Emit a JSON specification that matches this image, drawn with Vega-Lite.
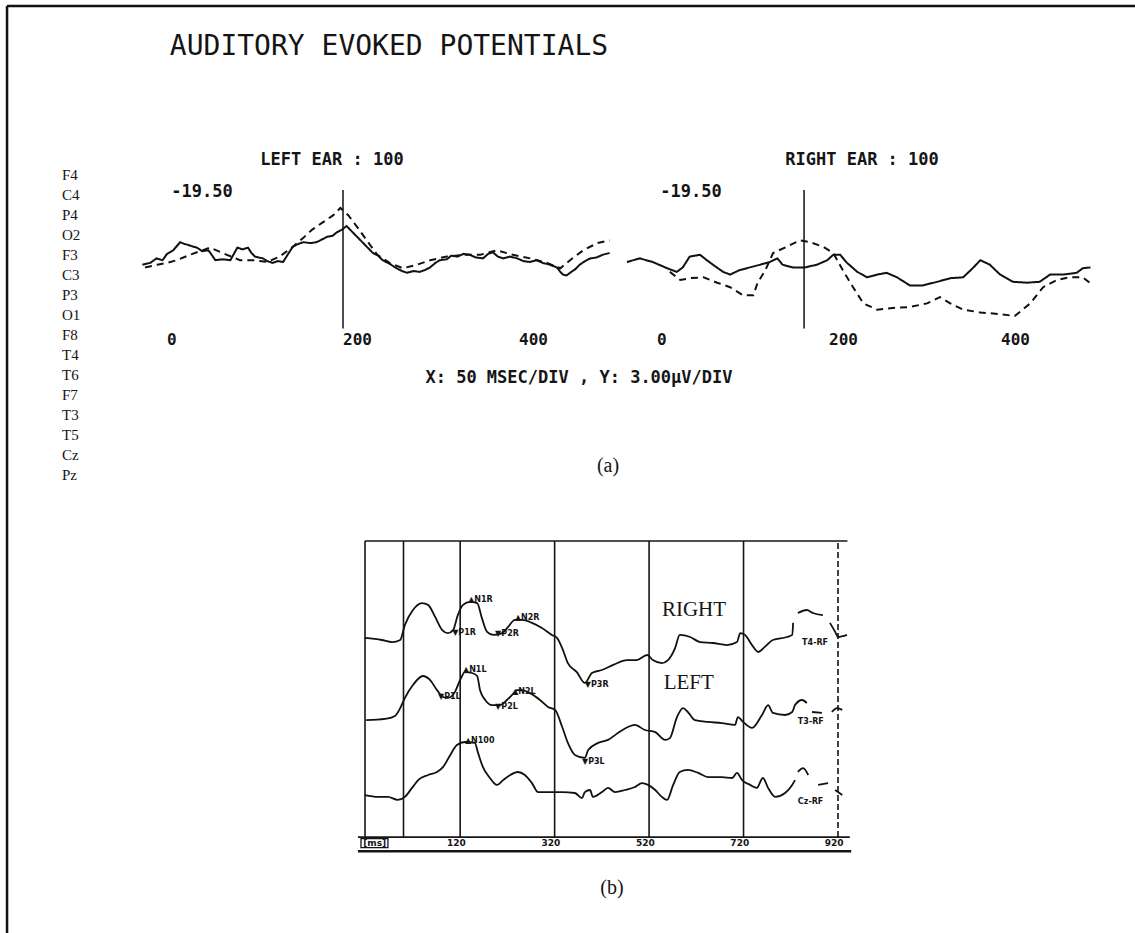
{
  "$schema": "https://vega.github.io/schema/vega-lite/v6.json",
  "width": 1135,
  "height": 933,
  "padding": 0,
  "autosize": {"type": "none"},
  "background": "white",
  "config": {"view": {"stroke": null}, "axis": {"disable": true}, "legend": {"disable": true}},
  "datasets": {
    "frameLines": [
      {"x": 0.62, "y": 0.64, "x2": 100, "y2": 0.64},
      {"x": 0.62, "y": 0.64, "x2": 0.62, "y2": 100}
    ],
    "pageText": [
      {"role": "title", "x": 34.27, "y": 5.04, "text": "AUDITORY EVOKED POTENTIALS"},
      {"role": "head", "x": 29.25, "y": 17.15, "text": "LEFT EAR : 100"},
      {"role": "head", "x": 75.95, "y": 17.15, "text": "RIGHT EAR : 100"},
      {"role": "head", "x": 17.8, "y": 20.58, "text": "-19.50"},
      {"role": "head", "x": 60.88, "y": 20.58, "text": "-19.50"},
      {"role": "head", "x": 51.01, "y": 40.51, "text": "X: 50 MSEC/DIV , Y: 3.00µV/DIV"},
      {"role": "cap", "x": 53.57, "y": 49.95, "text": "(a)"},
      {"role": "cap", "x": 53.92, "y": 95.18, "text": "(b)"},
      {"role": "chan", "x": 5.46, "y": 18.76, "text": "F4"},
      {"role": "chan", "x": 5.46, "y": 20.9, "text": "C4"},
      {"role": "chan", "x": 5.46, "y": 23.04, "text": "P4"},
      {"role": "chan", "x": 5.46, "y": 25.19, "text": "O2"},
      {"role": "chan", "x": 5.46, "y": 27.33, "text": "F3"},
      {"role": "chan", "x": 5.46, "y": 29.47, "text": "C3"},
      {"role": "chan", "x": 5.46, "y": 31.62, "text": "P3"},
      {"role": "chan", "x": 5.46, "y": 33.76, "text": "O1"},
      {"role": "chan", "x": 5.46, "y": 35.91, "text": "F8"},
      {"role": "chan", "x": 5.46, "y": 38.05, "text": "T4"},
      {"role": "chan", "x": 5.46, "y": 40.19, "text": "T6"},
      {"role": "chan", "x": 5.46, "y": 42.34, "text": "F7"},
      {"role": "chan", "x": 5.46, "y": 44.48, "text": "T3"},
      {"role": "chan", "x": 5.46, "y": 46.62, "text": "T5"},
      {"role": "chan", "x": 5.46, "y": 48.77, "text": "Cz"},
      {"role": "chan", "x": 5.46, "y": 50.91, "text": "Pz"}
    ],
    "leftEar": [
      {"curve": "A", "ms": -28, "uv": -0.3}, {"curve": "A", "ms": -19, "uv": -0.1}, {"curve": "A", "ms": -12, "uv": 0.4},
      {"curve": "A", "ms": -5, "uv": 0.2}, {"curve": "A", "ms": 0, "uv": 0.9}, {"curve": "A", "ms": 7, "uv": 1.3},
      {"curve": "A", "ms": 15, "uv": 2.2}, {"curve": "A", "ms": 20, "uv": 2.0}, {"curve": "A", "ms": 24, "uv": 1.9},
      {"curve": "A", "ms": 30, "uv": 1.7}, {"curve": "A", "ms": 34, "uv": 1.6}, {"curve": "A", "ms": 40, "uv": 1.2},
      {"curve": "A", "ms": 47, "uv": 1.3}, {"curve": "A", "ms": 50, "uv": 0.9}, {"curve": "A", "ms": 55, "uv": 0.2},
      {"curve": "A", "ms": 63, "uv": 0.3}, {"curve": "A", "ms": 72, "uv": 0.2}, {"curve": "A", "ms": 76, "uv": 0.9},
      {"curve": "A", "ms": 80, "uv": 1.6}, {"curve": "A", "ms": 86, "uv": 1.4}, {"curve": "A", "ms": 92, "uv": 1.6},
      {"curve": "A", "ms": 96, "uv": 1.0}, {"curve": "A", "ms": 100, "uv": 0.6}, {"curve": "A", "ms": 109, "uv": 0.4},
      {"curve": "A", "ms": 114, "uv": 0.1}, {"curve": "A", "ms": 120, "uv": -0.1}, {"curve": "A", "ms": 126, "uv": 0.1},
      {"curve": "A", "ms": 132, "uv": 0}, {"curve": "A", "ms": 137, "uv": 0.8}, {"curve": "A", "ms": 143, "uv": 1.7},
      {"curve": "A", "ms": 149, "uv": 2.0}, {"curve": "A", "ms": 155, "uv": 2.2}, {"curve": "A", "ms": 163, "uv": 2.1},
      {"curve": "A", "ms": 170, "uv": 2.2}, {"curve": "A", "ms": 176, "uv": 2.5}, {"curve": "A", "ms": 182, "uv": 2.8},
      {"curve": "A", "ms": 188, "uv": 2.9}, {"curve": "A", "ms": 193, "uv": 3.3}, {"curve": "A", "ms": 199, "uv": 3.6},
      {"curve": "A", "ms": 204, "uv": 4.0}, {"curve": "A", "ms": 208, "uv": 3.6}, {"curve": "A", "ms": 211, "uv": 3.3},
      {"curve": "A", "ms": 216, "uv": 2.8}, {"curve": "A", "ms": 223, "uv": 2.1}, {"curve": "A", "ms": 228, "uv": 1.6},
      {"curve": "A", "ms": 234, "uv": 1.0}, {"curve": "A", "ms": 240, "uv": 0.7}, {"curve": "A", "ms": 245, "uv": 0.2},
      {"curve": "A", "ms": 253, "uv": -0.2}, {"curve": "A", "ms": 261, "uv": -0.7}, {"curve": "A", "ms": 267, "uv": -1.0},
      {"curve": "A", "ms": 273, "uv": -1.2}, {"curve": "A", "ms": 280, "uv": -1.0}, {"curve": "A", "ms": 287, "uv": -1.1},
      {"curve": "A", "ms": 293, "uv": -0.9}, {"curve": "A", "ms": 299, "uv": -0.6}, {"curve": "A", "ms": 305, "uv": -0.1},
      {"curve": "A", "ms": 310, "uv": 0.2}, {"curve": "A", "ms": 318, "uv": 0.3}, {"curve": "A", "ms": 323, "uv": 0.7},
      {"curve": "A", "ms": 330, "uv": 0.6}, {"curve": "A", "ms": 337, "uv": 0.9}, {"curve": "A", "ms": 344, "uv": 0.8},
      {"curve": "A", "ms": 351, "uv": 0.5}, {"curve": "A", "ms": 359, "uv": 0.4}, {"curve": "A", "ms": 365, "uv": 0.9},
      {"curve": "A", "ms": 370, "uv": 1.1}, {"curve": "A", "ms": 376, "uv": 0.6}, {"curve": "A", "ms": 382, "uv": 0.4},
      {"curve": "A", "ms": 390, "uv": 0.6}, {"curve": "A", "ms": 398, "uv": 0.4}, {"curve": "A", "ms": 405, "uv": 0.1},
      {"curve": "A", "ms": 412, "uv": 0}, {"curve": "A", "ms": 420, "uv": 0.2}, {"curve": "A", "ms": 427, "uv": -0.1},
      {"curve": "A", "ms": 435, "uv": -0.3}, {"curve": "A", "ms": 443, "uv": -0.6}, {"curve": "A", "ms": 447, "uv": -1.1},
      {"curve": "A", "ms": 450, "uv": -1.4}, {"curve": "A", "ms": 454, "uv": -1.5}, {"curve": "A", "ms": 458, "uv": -1.2},
      {"curve": "A", "ms": 464, "uv": -0.8}, {"curve": "A", "ms": 469, "uv": -0.3}, {"curve": "A", "ms": 475, "uv": 0.1},
      {"curve": "A", "ms": 481, "uv": 0.4}, {"curve": "A", "ms": 488, "uv": 0.5}, {"curve": "A", "ms": 495, "uv": 0.8},
      {"curve": "A", "ms": 503, "uv": 1.0},
      {"curve": "B", "ms": -25, "uv": -0.6}, {"curve": "B", "ms": -11, "uv": -0.3}, {"curve": "B", "ms": 0, "uv": -0.1},
      {"curve": "B", "ms": 11, "uv": 0.2}, {"curve": "B", "ms": 26, "uv": 0.8}, {"curve": "B", "ms": 49, "uv": 1.6},
      {"curve": "B", "ms": 68, "uv": 0.8}, {"curve": "B", "ms": 83, "uv": 0.2}, {"curve": "B", "ms": 98, "uv": 0.2},
      {"curve": "B", "ms": 114, "uv": 0}, {"curve": "B", "ms": 128, "uv": 0.6}, {"curve": "B", "ms": 143, "uv": 1.7},
      {"curve": "B", "ms": 155, "uv": 2.7}, {"curve": "B", "ms": 165, "uv": 3.6}, {"curve": "B", "ms": 177, "uv": 4.4},
      {"curve": "B", "ms": 189, "uv": 5.2}, {"curve": "B", "ms": 197, "uv": 6.0}, {"curve": "B", "ms": 206, "uv": 5.2},
      {"curve": "B", "ms": 216, "uv": 3.9}, {"curve": "B", "ms": 227, "uv": 2.4}, {"curve": "B", "ms": 239, "uv": 0.8},
      {"curve": "B", "ms": 253, "uv": -0.1}, {"curve": "B", "ms": 268, "uv": -0.7}, {"curve": "B", "ms": 284, "uv": -0.3},
      {"curve": "B", "ms": 299, "uv": 0.2}, {"curve": "B", "ms": 318, "uv": 0.6}, {"curve": "B", "ms": 336, "uv": 0.8},
      {"curve": "B", "ms": 356, "uv": 0.8}, {"curve": "B", "ms": 375, "uv": 1.3}, {"curve": "B", "ms": 393, "uv": 0.8},
      {"curve": "B", "ms": 413, "uv": 0.4}, {"curve": "B", "ms": 432, "uv": -0.1}, {"curve": "B", "ms": 447, "uv": -0.7},
      {"curve": "B", "ms": 458, "uv": 0.2}, {"curve": "B", "ms": 473, "uv": 1.3}, {"curve": "B", "ms": 489, "uv": 2.1},
      {"curve": "B", "ms": 503, "uv": 2.4}
    ],
    "rightEar": [
      {"curve": "A", "ms": -35, "uv": 0}, {"curve": "A", "ms": -20, "uv": 0.4}, {"curve": "A", "ms": -5, "uv": 0},
      {"curve": "A", "ms": 12, "uv": -0.7}, {"curve": "A", "ms": 23, "uv": -1.1}, {"curve": "A", "ms": 30, "uv": -0.6},
      {"curve": "A", "ms": 38, "uv": 0.6}, {"curve": "A", "ms": 50, "uv": 0.8}, {"curve": "A", "ms": 58, "uv": 0.2},
      {"curve": "A", "ms": 65, "uv": -0.3}, {"curve": "A", "ms": 77, "uv": -1.1}, {"curve": "A", "ms": 85, "uv": -1.4},
      {"curve": "A", "ms": 96, "uv": -0.9}, {"curve": "A", "ms": 108, "uv": -0.6}, {"curve": "A", "ms": 120, "uv": -0.3},
      {"curve": "A", "ms": 131, "uv": 0}, {"curve": "A", "ms": 140, "uv": 0.4}, {"curve": "A", "ms": 146, "uv": -0.3},
      {"curve": "A", "ms": 158, "uv": -0.6}, {"curve": "A", "ms": 172, "uv": -0.6}, {"curve": "A", "ms": 186, "uv": -0.3},
      {"curve": "A", "ms": 198, "uv": 0.2}, {"curve": "A", "ms": 205, "uv": 0.8}, {"curve": "A", "ms": 213, "uv": 0.8},
      {"curve": "A", "ms": 221, "uv": -0.1}, {"curve": "A", "ms": 233, "uv": -1.1}, {"curve": "A", "ms": 244, "uv": -1.7},
      {"curve": "A", "ms": 256, "uv": -1.4}, {"curve": "A", "ms": 267, "uv": -1.2}, {"curve": "A", "ms": 279, "uv": -1.7},
      {"curve": "A", "ms": 294, "uv": -2.6}, {"curve": "A", "ms": 309, "uv": -2.6}, {"curve": "A", "ms": 326, "uv": -2.2},
      {"curve": "A", "ms": 341, "uv": -1.8}, {"curve": "A", "ms": 356, "uv": -1.7}, {"curve": "A", "ms": 367, "uv": -0.7},
      {"curve": "A", "ms": 376, "uv": 0.2}, {"curve": "A", "ms": 387, "uv": -0.3}, {"curve": "A", "ms": 399, "uv": -1.4},
      {"curve": "A", "ms": 414, "uv": -2.2}, {"curve": "A", "ms": 430, "uv": -2.3}, {"curve": "A", "ms": 445, "uv": -2.2},
      {"curve": "A", "ms": 457, "uv": -1.4}, {"curve": "A", "ms": 472, "uv": -1.4}, {"curve": "A", "ms": 488, "uv": -1.2},
      {"curve": "A", "ms": 495, "uv": -0.7}, {"curve": "A", "ms": 504, "uv": -0.6},
      {"curve": "B", "ms": 15, "uv": -1.1}, {"curve": "B", "ms": 27, "uv": -2.0}, {"curve": "B", "ms": 38, "uv": -1.8},
      {"curve": "B", "ms": 54, "uv": -1.7}, {"curve": "B", "ms": 70, "uv": -2.3}, {"curve": "B", "ms": 85, "uv": -2.8},
      {"curve": "B", "ms": 100, "uv": -3.7}, {"curve": "B", "ms": 112, "uv": -3.7}, {"curve": "B", "ms": 117, "uv": -2.3},
      {"curve": "B", "ms": 126, "uv": -0.9}, {"curve": "B", "ms": 135, "uv": 1.0}, {"curve": "B", "ms": 151, "uv": 1.7},
      {"curve": "B", "ms": 166, "uv": 2.4}, {"curve": "B", "ms": 178, "uv": 2.2}, {"curve": "B", "ms": 193, "uv": 1.7},
      {"curve": "B", "ms": 205, "uv": 1.0}, {"curve": "B", "ms": 216, "uv": -0.9}, {"curve": "B", "ms": 228, "uv": -2.8},
      {"curve": "B", "ms": 240, "uv": -4.6}, {"curve": "B", "ms": 256, "uv": -5.3}, {"curve": "B", "ms": 274, "uv": -5.1},
      {"curve": "B", "ms": 294, "uv": -5.0}, {"curve": "B", "ms": 314, "uv": -4.6}, {"curve": "B", "ms": 329, "uv": -3.9},
      {"curve": "B", "ms": 341, "uv": -4.6}, {"curve": "B", "ms": 356, "uv": -5.3}, {"curve": "B", "ms": 376, "uv": -5.6},
      {"curve": "B", "ms": 399, "uv": -5.8}, {"curve": "B", "ms": 416, "uv": -6.0}, {"curve": "B", "ms": 434, "uv": -4.6},
      {"curve": "B", "ms": 449, "uv": -2.8}, {"curve": "B", "ms": 465, "uv": -2.0}, {"curve": "B", "ms": 480, "uv": -1.7},
      {"curve": "B", "ms": 495, "uv": -1.7}, {"curve": "B", "ms": 507, "uv": -2.6}
    ],
    "leftCursor": [{"ms": 200, "uv": 8, "uv2": -7.4}],
    "rightCursor": [{"ms": 171, "uv": 8, "uv2": -7.4}],
    "earTicks": [
      {"ms": 0, "uv": -8.67, "text": "0"},
      {"ms": 200, "uv": -8.67, "text": "200"},
      {"ms": 400, "uv": -8.67, "text": "400"}
    ],
    "bTraces": [
      {"seg": "R1", "ms": -82, "amp": 70.7}, {"seg": "R1", "ms": -46, "amp": 70}, {"seg": "R1", "ms": -24, "amp": 69.3},
      {"seg": "R1", "ms": -7, "amp": 70}, {"seg": "R1", "ms": 3, "amp": 75}, {"seg": "R1", "ms": 20, "amp": 80},
      {"seg": "R1", "ms": 39, "amp": 82.3}, {"seg": "R1", "ms": 52, "amp": 81.7}, {"seg": "R1", "ms": 67, "amp": 77.7},
      {"seg": "R1", "ms": 82, "amp": 73.3}, {"seg": "R1", "ms": 94, "amp": 72.3}, {"seg": "R1", "ms": 105, "amp": 73.3},
      {"seg": "R1", "ms": 115, "amp": 78.3}, {"seg": "R1", "ms": 126, "amp": 81.7}, {"seg": "R1", "ms": 141, "amp": 82.7},
      {"seg": "R1", "ms": 156, "amp": 82.3}, {"seg": "R1", "ms": 166, "amp": 77.3}, {"seg": "R1", "ms": 177, "amp": 72.7},
      {"seg": "R1", "ms": 190, "amp": 71.7}, {"seg": "R1", "ms": 209, "amp": 72.3}, {"seg": "R1", "ms": 221, "amp": 74.3},
      {"seg": "R1", "ms": 236, "amp": 76.7}, {"seg": "R1", "ms": 251, "amp": 76.7}, {"seg": "R1", "ms": 272, "amp": 75.7},
      {"seg": "R1", "ms": 293, "amp": 74}, {"seg": "R1", "ms": 314, "amp": 71.7}, {"seg": "R1", "ms": 325, "amp": 70.7},
      {"seg": "R1", "ms": 336, "amp": 67.3}, {"seg": "R1", "ms": 348, "amp": 62.3}, {"seg": "R1", "ms": 367, "amp": 59.3},
      {"seg": "R1", "ms": 384, "amp": 55.7}, {"seg": "R1", "ms": 399, "amp": 59}, {"seg": "R1", "ms": 420, "amp": 60},
      {"seg": "R1", "ms": 444, "amp": 61.7}, {"seg": "R1", "ms": 473, "amp": 63.3}, {"seg": "R1", "ms": 494, "amp": 63.3},
      {"seg": "R1", "ms": 516, "amp": 65}, {"seg": "R1", "ms": 528, "amp": 63.3}, {"seg": "R1", "ms": 547, "amp": 62.3},
      {"seg": "R1", "ms": 560, "amp": 63.3}, {"seg": "R1", "ms": 575, "amp": 67.3}, {"seg": "R1", "ms": 585, "amp": 71.7},
      {"seg": "R1", "ms": 607, "amp": 71}, {"seg": "R1", "ms": 628, "amp": 69.3}, {"seg": "R1", "ms": 655, "amp": 69},
      {"seg": "R1", "ms": 685, "amp": 68.3}, {"seg": "R1", "ms": 706, "amp": 69.3}, {"seg": "R1", "ms": 713, "amp": 72.3},
      {"seg": "R1", "ms": 723, "amp": 71.7}, {"seg": "R1", "ms": 738, "amp": 68.3}, {"seg": "R1", "ms": 751, "amp": 66},
      {"seg": "R1", "ms": 765, "amp": 67.7}, {"seg": "R1", "ms": 782, "amp": 70}, {"seg": "R1", "ms": 812, "amp": 71},
      {"seg": "R1", "ms": 823, "amp": 71.7}, {"seg": "R1", "ms": 825, "amp": 75.7},
      {"seg": "R2", "ms": 835, "amp": 79}, {"seg": "R2", "ms": 854, "amp": 80}, {"seg": "R2", "ms": 867, "amp": 79},
      {"seg": "R2", "ms": 888, "amp": 78.3},
      {"seg": "R3", "ms": 903, "amp": 75.7}, {"seg": "R3", "ms": 914, "amp": 72.7}, {"seg": "R3", "ms": 920, "amp": 71},
      {"seg": "R3", "ms": 939, "amp": 71.7},
      {"seg": "L1", "ms": -79, "amp": 43.3}, {"seg": "L1", "ms": -39, "amp": 43.7}, {"seg": "L1", "ms": -18, "amp": 44.7},
      {"seg": "L1", "ms": -7, "amp": 47.3}, {"seg": "L1", "ms": 3, "amp": 50.7}, {"seg": "L1", "ms": 20, "amp": 55},
      {"seg": "L1", "ms": 41, "amp": 58}, {"seg": "L1", "ms": 56, "amp": 56.7}, {"seg": "L1", "ms": 71, "amp": 53.3},
      {"seg": "L1", "ms": 84, "amp": 51}, {"seg": "L1", "ms": 94, "amp": 50.7}, {"seg": "L1", "ms": 109, "amp": 52.7},
      {"seg": "L1", "ms": 120, "amp": 56.7}, {"seg": "L1", "ms": 130, "amp": 59.3}, {"seg": "L1", "ms": 145, "amp": 59},
      {"seg": "L1", "ms": 156, "amp": 58}, {"seg": "L1", "ms": 162, "amp": 53.3}, {"seg": "L1", "ms": 173, "amp": 50},
      {"seg": "L1", "ms": 187, "amp": 48.3}, {"seg": "L1", "ms": 204, "amp": 48.3}, {"seg": "L1", "ms": 219, "amp": 50},
      {"seg": "L1", "ms": 230, "amp": 51.7}, {"seg": "L1", "ms": 240, "amp": 53.3}, {"seg": "L1", "ms": 251, "amp": 53.3},
      {"seg": "L1", "ms": 268, "amp": 52.3}, {"seg": "L1", "ms": 289, "amp": 50}, {"seg": "L1", "ms": 306, "amp": 47.7},
      {"seg": "L1", "ms": 321, "amp": 46.7}, {"seg": "L1", "ms": 336, "amp": 41}, {"seg": "L1", "ms": 348, "amp": 35.7},
      {"seg": "L1", "ms": 363, "amp": 31.7}, {"seg": "L1", "ms": 384, "amp": 30.7}, {"seg": "L1", "ms": 391, "amp": 33.3},
      {"seg": "L1", "ms": 412, "amp": 35.7}, {"seg": "L1", "ms": 433, "amp": 36.7}, {"seg": "L1", "ms": 454, "amp": 39},
      {"seg": "L1", "ms": 475, "amp": 41}, {"seg": "L1", "ms": 490, "amp": 41.7}, {"seg": "L1", "ms": 511, "amp": 40},
      {"seg": "L1", "ms": 533, "amp": 39.3}, {"seg": "L1", "ms": 554, "amp": 36.7}, {"seg": "L1", "ms": 564, "amp": 37.3},
      {"seg": "L1", "ms": 579, "amp": 44.3}, {"seg": "L1", "ms": 592, "amp": 47.3}, {"seg": "L1", "ms": 602, "amp": 46},
      {"seg": "L1", "ms": 617, "amp": 43.3}, {"seg": "L1", "ms": 645, "amp": 42.7}, {"seg": "L1", "ms": 674, "amp": 42.3},
      {"seg": "L1", "ms": 702, "amp": 41.7}, {"seg": "L1", "ms": 708, "amp": 44.3}, {"seg": "L1", "ms": 719, "amp": 42.7},
      {"seg": "L1", "ms": 738, "amp": 40.7}, {"seg": "L1", "ms": 759, "amp": 45}, {"seg": "L1", "ms": 772, "amp": 48.3},
      {"seg": "L1", "ms": 782, "amp": 45.7}, {"seg": "L1", "ms": 808, "amp": 45}, {"seg": "L1", "ms": 823, "amp": 46},
      {"seg": "L1", "ms": 829, "amp": 48.3}, {"seg": "L1", "ms": 844, "amp": 50}, {"seg": "L1", "ms": 854, "amp": 49},
      {"seg": "L2", "ms": 865, "amp": 46}, {"seg": "L2", "ms": 886, "amp": 45.7},
      {"seg": "L3", "ms": 907, "amp": 46}, {"seg": "L3", "ms": 918, "amp": 47.3}, {"seg": "L3", "ms": 929, "amp": 46.7},
      {"seg": "C1", "ms": -82, "amp": 18.3}, {"seg": "C1", "ms": -54, "amp": 17.7}, {"seg": "C1", "ms": -33, "amp": 17.7},
      {"seg": "C1", "ms": -12, "amp": 16.7}, {"seg": "C1", "ms": 3, "amp": 17.7}, {"seg": "C1", "ms": 18, "amp": 20.7},
      {"seg": "C1", "ms": 31, "amp": 23.3}, {"seg": "C1", "ms": 52, "amp": 25}, {"seg": "C1", "ms": 71, "amp": 26},
      {"seg": "C1", "ms": 84, "amp": 27.7}, {"seg": "C1", "ms": 99, "amp": 31.7}, {"seg": "C1", "ms": 113, "amp": 35},
      {"seg": "C1", "ms": 130, "amp": 36}, {"seg": "C1", "ms": 151, "amp": 35.7}, {"seg": "C1", "ms": 158, "amp": 32.3},
      {"seg": "C1", "ms": 168, "amp": 27.7}, {"seg": "C1", "ms": 183, "amp": 24}, {"seg": "C1", "ms": 198, "amp": 21.7},
      {"seg": "C1", "ms": 211, "amp": 23.3}, {"seg": "C1", "ms": 226, "amp": 25}, {"seg": "C1", "ms": 242, "amp": 26},
      {"seg": "C1", "ms": 257, "amp": 25}, {"seg": "C1", "ms": 272, "amp": 22.3}, {"seg": "C1", "ms": 285, "amp": 19.3},
      {"seg": "C1", "ms": 306, "amp": 19.3}, {"seg": "C1", "ms": 336, "amp": 19.3}, {"seg": "C1", "ms": 363, "amp": 19},
      {"seg": "C1", "ms": 378, "amp": 17.3}, {"seg": "C1", "ms": 384, "amp": 19.3}, {"seg": "C1", "ms": 395, "amp": 20},
      {"seg": "C1", "ms": 401, "amp": 17.7}, {"seg": "C1", "ms": 420, "amp": 19.3}, {"seg": "C1", "ms": 433, "amp": 20.7},
      {"seg": "C1", "ms": 448, "amp": 19.3}, {"seg": "C1", "ms": 469, "amp": 20}, {"seg": "C1", "ms": 490, "amp": 21},
      {"seg": "C1", "ms": 505, "amp": 22.3}, {"seg": "C1", "ms": 518, "amp": 21.7}, {"seg": "C1", "ms": 533, "amp": 20},
      {"seg": "C1", "ms": 547, "amp": 17.7}, {"seg": "C1", "ms": 558, "amp": 16.7}, {"seg": "C1", "ms": 571, "amp": 21.7},
      {"seg": "C1", "ms": 585, "amp": 26}, {"seg": "C1", "ms": 602, "amp": 26.7}, {"seg": "C1", "ms": 624, "amp": 25.7},
      {"seg": "C1", "ms": 645, "amp": 24.3}, {"seg": "C1", "ms": 674, "amp": 24.3}, {"seg": "C1", "ms": 696, "amp": 24},
      {"seg": "C1", "ms": 706, "amp": 25.7}, {"seg": "C1", "ms": 717, "amp": 23.3}, {"seg": "C1", "ms": 734, "amp": 21.7},
      {"seg": "C1", "ms": 748, "amp": 20.7}, {"seg": "C1", "ms": 761, "amp": 24}, {"seg": "C1", "ms": 772, "amp": 20.7},
      {"seg": "C1", "ms": 787, "amp": 17.7}, {"seg": "C1", "ms": 808, "amp": 19}, {"seg": "C1", "ms": 823, "amp": 21.7},
      {"seg": "C1", "ms": 829, "amp": 23.3},
      {"seg": "C2", "ms": 835, "amp": 26}, {"seg": "C2", "ms": 846, "amp": 27.3}, {"seg": "C2", "ms": 857, "amp": 25},
      {"seg": "C3", "ms": 878, "amp": 21.7}, {"seg": "C3", "ms": 899, "amp": 22.3},
      {"seg": "C4", "ms": 914, "amp": 20}, {"seg": "C4", "ms": 929, "amp": 18.3}
    ],
    "bRules": [
      {"style": "frame", "ms": -81.5, "amp": 103, "ms2": 940, "amp2": 103},
      {"style": "frame", "ms": -81.5, "amp": 4.3, "ms2": -81.5, "amp2": 103},
      {"style": "frame", "ms": 0, "amp": 4.3, "ms2": 0, "amp2": 103},
      {"style": "frame", "ms": 120, "amp": 4.3, "ms2": 120, "amp2": 103},
      {"style": "frame", "ms": 320, "amp": 4.3, "ms2": 320, "amp2": 103},
      {"style": "frame", "ms": 520, "amp": 4.3, "ms2": 520, "amp2": 103},
      {"style": "frame", "ms": 720, "amp": 4.3, "ms2": 720, "amp2": 103},
      {"style": "frame", "ms": -96.5, "amp": 4.3, "ms2": 945, "amp2": 4.3},
      {"style": "dashed", "ms": 920, "amp": 4.3, "ms2": 920, "amp2": 103},
      {"style": "base", "ms": -96.5, "amp": -0.4, "ms2": 948, "amp2": -0.4}
    ],
    "bBox": [{"ms": -90, "amp": 0.8, "ms2": -33, "amp2": 3.8}],
    "bTicks": [
      {"ms": -61, "amp": 2.2, "text": "[ms]"},
      {"ms": 112, "amp": 2.2, "text": "120"},
      {"ms": 312, "amp": 2.2, "text": "320"},
      {"ms": 512, "amp": 2.2, "text": "520"},
      {"ms": 712, "amp": 2.2, "text": "720"},
      {"ms": 912, "amp": 2.2, "text": "920"}
    ],
    "bPeaks": [
      {"ms": 137, "amp": 83.3, "text": "▲N1R"},
      {"ms": 103, "amp": 72.3, "text": "▼P1R"},
      {"ms": 236, "amp": 77.3, "text": "▲N2R"},
      {"ms": 194, "amp": 72, "text": "▼P2R"},
      {"ms": 384, "amp": 55, "text": "▼P3R"},
      {"ms": 126, "amp": 60, "text": "▲N1L"},
      {"ms": 73, "amp": 51, "text": "▼P1L"},
      {"ms": 230, "amp": 52.7, "text": "▲N2L"},
      {"ms": 194, "amp": 47.7, "text": "▼P2L"},
      {"ms": 378, "amp": 29.3, "text": "▼P3L"},
      {"ms": 130, "amp": 36.3, "text": "▲N100"},
      {"ms": 844, "amp": 69, "text": "T4-RF"},
      {"ms": 835, "amp": 42.7, "text": "T3-RF"},
      {"ms": 835, "amp": 16, "text": "Cz-RF"}
    ],
    "bSides": [
      {"ms": 615, "amp": 80, "text": "RIGHT"},
      {"ms": 604, "amp": 55.7, "text": "LEFT"}
    ]
  },
  "layer": [
    {
      "layer": [
        {
          "data": {"name": "frameLines"},
          "mark": {"type": "rule", "strokeWidth": 2.5, "color": "#111"},
          "encoding": {
            "x": {"field": "x", "type": "quantitative", "axis": null, "scale": {"domain": [0, 100], "range": [0, 1135], "nice": false, "zero": false}},
            "y": {"field": "y", "type": "quantitative", "axis": null, "scale": {"domain": [0, 100], "range": [0, 933], "nice": false, "zero": false}},
            "x2": {"field": "x2"},
            "y2": {"field": "y2"}
          }
        },
        {
          "data": {"name": "pageText"},
          "transform": [{"filter": "datum.role == 'title'"}],
          "mark": {"type": "text", "font": "DejaVu Sans Mono", "fontSize": 28, "align": "center", "baseline": "middle", "color": "#151515"},
          "encoding": {
            "x": {"field": "x", "type": "quantitative", "axis": null, "scale": {"domain": [0, 100], "range": [0, 1135], "nice": false, "zero": false}},
            "y": {"field": "y", "type": "quantitative", "axis": null, "scale": {"domain": [0, 100], "range": [0, 933], "nice": false, "zero": false}},
            "text": {"field": "text"}
          }
        },
        {
          "data": {"name": "pageText"},
          "transform": [{"filter": "datum.role == 'head'"}],
          "mark": {"type": "text", "font": "DejaVu Sans Mono", "fontSize": 17, "fontWeight": "bold", "align": "center", "baseline": "middle", "color": "#151515"},
          "encoding": {
            "x": {"field": "x", "type": "quantitative", "axis": null, "scale": {"domain": [0, 100], "range": [0, 1135], "nice": false, "zero": false}},
            "y": {"field": "y", "type": "quantitative", "axis": null, "scale": {"domain": [0, 100], "range": [0, 933], "nice": false, "zero": false}},
            "text": {"field": "text"}
          }
        },
        {
          "data": {"name": "pageText"},
          "transform": [{"filter": "datum.role == 'chan'"}],
          "mark": {"type": "text", "font": "Liberation Serif", "fontSize": 15, "align": "left", "baseline": "middle", "color": "#151515"},
          "encoding": {
            "x": {"field": "x", "type": "quantitative", "axis": null, "scale": {"domain": [0, 100], "range": [0, 1135], "nice": false, "zero": false}},
            "y": {"field": "y", "type": "quantitative", "axis": null, "scale": {"domain": [0, 100], "range": [0, 933], "nice": false, "zero": false}},
            "text": {"field": "text"}
          }
        },
        {
          "data": {"name": "pageText"},
          "transform": [{"filter": "datum.role == 'cap'"}],
          "mark": {"type": "text", "font": "Liberation Serif", "fontSize": 20, "align": "center", "baseline": "middle", "color": "#151515"},
          "encoding": {
            "x": {"field": "x", "type": "quantitative", "axis": null, "scale": {"domain": [0, 100], "range": [0, 1135], "nice": false, "zero": false}},
            "y": {"field": "y", "type": "quantitative", "axis": null, "scale": {"domain": [0, 100], "range": [0, 933], "nice": false, "zero": false}},
            "text": {"field": "text"}
          }
        }
      ]
    },
    {
      "layer": [
        {
          "data": {"name": "leftEar"},
          "mark": {"type": "line", "strokeWidth": 2, "color": "#111", "interpolate": "linear"},
          "encoding": {
            "x": {"field": "ms", "type": "quantitative", "axis": null, "scale": {"domain": [0, 400], "range": [167, 519], "nice": false, "zero": false}},
            "y": {"field": "uv", "type": "quantitative", "axis": null, "scale": {"domain": [-5, 5], "range": [307, 217], "nice": false, "zero": false}},
            "detail": {"field": "curve", "type": "nominal"},
            "strokeDash": {"field": "curve", "type": "nominal", "legend": null, "scale": {"domain": ["A", "B"], "range": [[1, 0], [7, 5]]}}
          }
        },
        {
          "data": {"name": "leftCursor"},
          "mark": {"type": "rule", "strokeWidth": 1.5, "color": "#111"},
          "encoding": {
            "x": {"field": "ms", "type": "quantitative", "axis": null, "scale": {"domain": [0, 400], "range": [167, 519], "nice": false, "zero": false}},
            "y": {"field": "uv", "type": "quantitative", "axis": null, "scale": {"domain": [-5, 5], "range": [307, 217], "nice": false, "zero": false}},
            "y2": {"field": "uv2"}
          }
        },
        {
          "data": {"name": "earTicks"},
          "mark": {"type": "text", "font": "DejaVu Sans Mono", "fontSize": 16, "fontWeight": "bold", "align": "left", "baseline": "middle", "color": "#151515"},
          "encoding": {
            "x": {"field": "ms", "type": "quantitative", "axis": null, "scale": {"domain": [0, 400], "range": [167, 519], "nice": false, "zero": false}},
            "y": {"field": "uv", "type": "quantitative", "axis": null, "scale": {"domain": [-5, 5], "range": [307, 217], "nice": false, "zero": false}},
            "text": {"field": "text"}
          }
        }
      ]
    },
    {
      "layer": [
        {
          "data": {"name": "rightEar"},
          "mark": {"type": "line", "strokeWidth": 2, "color": "#111", "interpolate": "linear"},
          "encoding": {
            "x": {"field": "ms", "type": "quantitative", "axis": null, "scale": {"domain": [0, 400], "range": [657, 1001], "nice": false, "zero": false}},
            "y": {"field": "uv", "type": "quantitative", "axis": null, "scale": {"domain": [-5, 5], "range": [307, 217], "nice": false, "zero": false}},
            "detail": {"field": "curve", "type": "nominal"},
            "strokeDash": {"field": "curve", "type": "nominal", "legend": null, "scale": {"domain": ["A", "B"], "range": [[1, 0], [7, 5]]}}
          }
        },
        {
          "data": {"name": "rightCursor"},
          "mark": {"type": "rule", "strokeWidth": 1.5, "color": "#111"},
          "encoding": {
            "x": {"field": "ms", "type": "quantitative", "axis": null, "scale": {"domain": [0, 400], "range": [657, 1001], "nice": false, "zero": false}},
            "y": {"field": "uv", "type": "quantitative", "axis": null, "scale": {"domain": [-5, 5], "range": [307, 217], "nice": false, "zero": false}},
            "y2": {"field": "uv2"}
          }
        },
        {
          "data": {"name": "earTicks"},
          "mark": {"type": "text", "font": "DejaVu Sans Mono", "fontSize": 16, "fontWeight": "bold", "align": "left", "baseline": "middle", "color": "#151515"},
          "encoding": {
            "x": {"field": "ms", "type": "quantitative", "axis": null, "scale": {"domain": [0, 400], "range": [657, 1001], "nice": false, "zero": false}},
            "y": {"field": "uv", "type": "quantitative", "axis": null, "scale": {"domain": [-5, 5], "range": [307, 217], "nice": false, "zero": false}},
            "text": {"field": "text"}
          }
        }
      ]
    },
    {
      "layer": [
        {
          "data": {"name": "bRules"},
          "transform": [{"filter": "datum.style == 'frame'"}],
          "mark": {"type": "rule", "strokeWidth": 1.6, "color": "#151515"},
          "encoding": {
            "x": {"field": "ms", "type": "quantitative", "axis": null, "scale": {"domain": [0, 920], "range": [403.5, 838], "nice": false, "zero": false}},
            "y": {"field": "amp", "type": "quantitative", "axis": null, "scale": {"domain": [0, 100], "range": [850, 550], "nice": false, "zero": false}},
            "x2": {"field": "ms2"},
            "y2": {"field": "amp2"}
          }
        },
        {
          "data": {"name": "bRules"},
          "transform": [{"filter": "datum.style == 'dashed'"}],
          "mark": {"type": "rule", "strokeWidth": 1.6, "color": "#151515", "strokeDash": [6, 3]},
          "encoding": {
            "x": {"field": "ms", "type": "quantitative", "axis": null, "scale": {"domain": [0, 920], "range": [403.5, 838], "nice": false, "zero": false}},
            "y": {"field": "amp", "type": "quantitative", "axis": null, "scale": {"domain": [0, 100], "range": [850, 550], "nice": false, "zero": false}},
            "x2": {"field": "ms2"},
            "y2": {"field": "amp2"}
          }
        },
        {
          "data": {"name": "bRules"},
          "transform": [{"filter": "datum.style == 'base'"}],
          "mark": {"type": "rule", "strokeWidth": 2.4, "color": "#151515"},
          "encoding": {
            "x": {"field": "ms", "type": "quantitative", "axis": null, "scale": {"domain": [0, 920], "range": [403.5, 838], "nice": false, "zero": false}},
            "y": {"field": "amp", "type": "quantitative", "axis": null, "scale": {"domain": [0, 100], "range": [850, 550], "nice": false, "zero": false}},
            "x2": {"field": "ms2"},
            "y2": {"field": "amp2"}
          }
        },
        {
          "data": {"name": "bBox"},
          "mark": {"type": "rect", "fill": null, "stroke": "#151515", "strokeWidth": 1.3},
          "encoding": {
            "x": {"field": "ms", "type": "quantitative", "axis": null, "scale": {"domain": [0, 920], "range": [403.5, 838], "nice": false, "zero": false}},
            "y": {"field": "amp", "type": "quantitative", "axis": null, "scale": {"domain": [0, 100], "range": [850, 550], "nice": false, "zero": false}},
            "x2": {"field": "ms2"},
            "y2": {"field": "amp2"}
          }
        },
        {
          "data": {"name": "bTraces"},
          "mark": {"type": "line", "strokeWidth": 1.8, "color": "#111", "interpolate": "monotone"},
          "encoding": {
            "x": {"field": "ms", "type": "quantitative", "axis": null, "scale": {"domain": [0, 920], "range": [403.5, 838], "nice": false, "zero": false}},
            "y": {"field": "amp", "type": "quantitative", "axis": null, "scale": {"domain": [0, 100], "range": [850, 550], "nice": false, "zero": false}},
            "detail": {"field": "seg", "type": "nominal"}
          }
        },
        {
          "data": {"name": "bTicks"},
          "mark": {"type": "text", "font": "DejaVu Sans", "fontSize": 9, "fontWeight": "bold", "align": "center", "baseline": "middle", "color": "#151515"},
          "encoding": {
            "x": {"field": "ms", "type": "quantitative", "axis": null, "scale": {"domain": [0, 920], "range": [403.5, 838], "nice": false, "zero": false}},
            "y": {"field": "amp", "type": "quantitative", "axis": null, "scale": {"domain": [0, 100], "range": [850, 550], "nice": false, "zero": false}},
            "text": {"field": "text"}
          }
        },
        {
          "data": {"name": "bPeaks"},
          "mark": {"type": "text", "font": "DejaVu Sans", "fontSize": 8, "fontWeight": "bold", "align": "left", "baseline": "middle", "color": "#151515"},
          "encoding": {
            "x": {"field": "ms", "type": "quantitative", "axis": null, "scale": {"domain": [0, 920], "range": [403.5, 838], "nice": false, "zero": false}},
            "y": {"field": "amp", "type": "quantitative", "axis": null, "scale": {"domain": [0, 100], "range": [850, 550], "nice": false, "zero": false}},
            "text": {"field": "text"}
          }
        },
        {
          "data": {"name": "bSides"},
          "mark": {"type": "text", "font": "Liberation Serif", "fontSize": 21, "align": "center", "baseline": "middle", "color": "#151515"},
          "encoding": {
            "x": {"field": "ms", "type": "quantitative", "axis": null, "scale": {"domain": [0, 920], "range": [403.5, 838], "nice": false, "zero": false}},
            "y": {"field": "amp", "type": "quantitative", "axis": null, "scale": {"domain": [0, 100], "range": [850, 550], "nice": false, "zero": false}},
            "text": {"field": "text"}
          }
        }
      ]
    }
  ],
  "resolve": {"scale": {"x": "independent", "y": "independent"}}
}
